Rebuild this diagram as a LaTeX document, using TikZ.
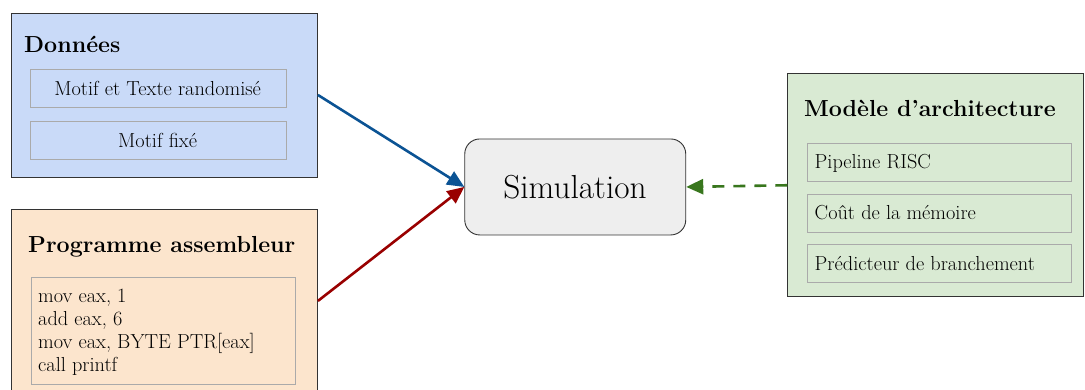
\documentclass[tikz,border=0pt]{standalone}
\usetikzlibrary{arrows.meta}
\definecolor{bluefill}{HTML}{C9DAF8}
\definecolor{orangefill}{HTML}{FCE5CD}
\definecolor{greenfill}{HTML}{D9EAD3}
\definecolor{grayfill}{HTML}{EEEEEE}
\definecolor{bluearrow}{HTML}{0B5394}
\definecolor{redarrow}{HTML}{990000}
\definecolor{greenarrow}{HTML}{38761D}
\definecolor{outerborder}{HTML}{333333}
\definecolor{innerborder}{HTML}{AAAAAA}
\tikzset{
  outerbox/.style={draw=outerborder, line width=0.9pt, inner sep=0pt, anchor=north west},
  innerbox/.style={draw=innerborder, line width=0.9pt, inner sep=0pt, anchor=north west},
  titletext/.style={anchor=base west, inner sep=0pt, font=\fontsize{23.2}{28}\selectfont\bfseries},
  bodytext/.style={inner sep=0pt, font=\fontsize{20.3}{23.1}\selectfont},
  conn/.style={line width=2.6pt, -{Triangle[length=17pt,width=15pt]}, shorten >=0pt},
}
\begin{document}
\begin{tikzpicture}[x=1pt,y=-1pt]
\useasboundingbox (0,0) rectangle (1085,389);
% Donnees
\node[outerbox, fill=bluefill, minimum width=306pt, minimum height=164pt] (don) at (11,12.5) {};
\node[titletext] (dontitle) at (24,52) {Données};
\node[innerbox, minimum width=256pt, minimum height=38pt] (d1) at (29.5,69.3) {};
\node[bodytext, anchor=base] (d1t) at (157.6,95) {Motif et Texte randomisé};
\node[innerbox, minimum width=256pt, minimum height=38pt] (d2) at (29.5,121.3) {};
\node[bodytext, anchor=base] (d2t) at (157.6,147) {Motif fixé};
% Programme
\node[outerbox, fill=orangefill, minimum width=306pt, minimum height=184pt] (prog) at (11,208.5) {};
\node[titletext] (progtitle) at (28,252.5) {Programme assembleur};
\node[innerbox, minimum width=264pt, minimum height=107pt] (code) at (30.5,277) {};
\node[bodytext, anchor=base west, align=left] (codet) at (38,371.7) {mov eax, 1\\add eax, 6\\mov eax, BYTE PTR[eax]\\call printf};
% Simulation
\node[draw=outerborder, line width=0.9pt, fill=grayfill, rounded corners=15pt, minimum width=221pt, minimum height=96pt, inner sep=0pt, anchor=north west] (sim) at (464.3,138.5) {};
\node[inner sep=0pt, anchor=base, font=\fontsize{33.3}{38}\selectfont] (simt) at (575,198.3) {Simulation};
% Modele
\node[outerbox, fill=greenfill, minimum width=296pt, minimum height=223pt] (mod) at (787.3,73.3) {};
\node[titletext] (modtitle) at (804,116.7) {Modèle d’architecture};
\node[innerbox, minimum width=264pt, minimum height=38pt] (m1) at (806.5,142.7) {};
\node[bodytext, anchor=base west] (m1t) at (814.5,168.5) {Pipeline RISC};
\node[innerbox, minimum width=264pt, minimum height=38pt] (m2) at (806.5,193.5) {};
\node[bodytext, anchor=base west] (m2t) at (814.5,219.5) {Coût de la mémoire};
\node[innerbox, minimum width=264pt, minimum height=38pt] (m3) at (806.5,244.3) {};
\node[bodytext, anchor=base west] (m3t) at (814.5,270.3) {Prédicteur de branchement};
% Connectors
\draw[conn, bluearrow] (don.east) -- (sim.west);
\draw[conn, redarrow] (prog.east) -- (sim.west);
\draw[conn, greenarrow, dash pattern=on 12pt off 9pt] (mod.west) -- (sim.east);
\end{tikzpicture}
\end{document}
